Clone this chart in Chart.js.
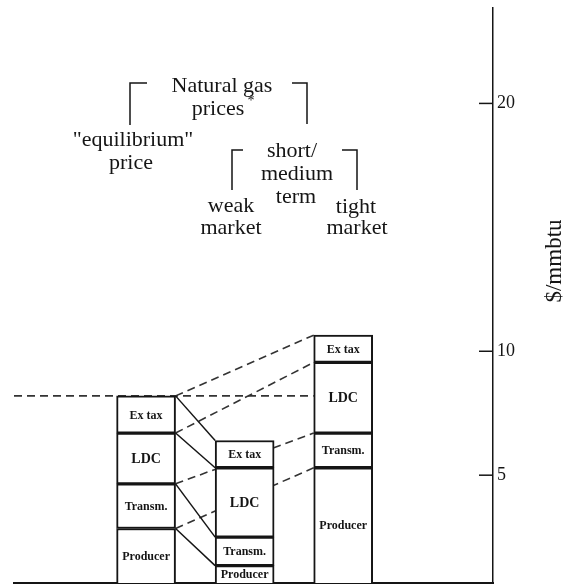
<!DOCTYPE html>
<html>
<head>
<meta charset="utf-8">
<script src="https://cdn.jsdelivr.net/npm/chart.js@4.4.0/dist/chart.umd.min.js"></script>
<style>
  html, body { margin: 0; padding: 0; background: #fff; }
  #wrap { width: 567px; height: 588px; }
</style>
</head>
<body>
<div id="wrap"><canvas id="gasChart" width="567" height="588"></canvas></div>
<script>
// gas price build-up, $/mmbtu
const categories = ['"equilibrium" price', 'weak market', 'tight market'];
const producer = [2.85, 1.35, 5.3];
const transm = [1.8, 1.15, 1.4];
const ldc = [2.05, 2.8, 2.85];
const exTax = [1.5, 1.1, 1.1];
const segmentNames = ['Producer', 'Transm.', 'LDC', 'Ex tax'];
const yTicks = [5, 10, 20];
const axisTitle = '$/mmbtu';

const segments = [producer, transm, ldc, exTax];
const serif = '"Liberation Serif", "DejaVu Serif", serif';
const ink = '#151515';

// running totals: boundaries between the stacked pieces
const totals = segments.map((seg, k) =>
    seg.map((v, i) => segments.slice(0, k + 1).reduce((s, a) => s + a[i], 0)));

const datasets = segments.map((vals, k) => ({
    label: segmentNames[k],
    data: vals.map((v, i) => ({ x: i + 1, y: v })),
    backgroundColor: '#fff',
    borderColor: ink,
    borderWidth: 2,
    borderSkipped: false,
    barThickness: 59
}));

function barEdges(chart, i) {
    const el = chart.getDatasetMeta(0).data[i];
    return { left: el.x - el.width / 2, right: el.x + el.width / 2 };
}

const diagramPlugin = {
    id: 'diagram',
    beforeDatasetsDraw(chart) {
        const { ctx, chartArea } = chart;
        const y = chart.scales.y;
        const b1 = barEdges(chart, 0), b2 = barEdges(chart, 1), b3 = barEdges(chart, 2);
        ctx.save();
        ctx.strokeStyle = '#333';
        ctx.lineWidth = 1.6;
        ctx.setLineDash([8, 5]);
        // "equilibrium" level carried across
        ctx.beginPath();
        ctx.moveTo(chartArea.left, y.getPixelForValue(totals[3][0]));
        ctx.lineTo(b3.left, y.getPixelForValue(totals[3][0]));
        ctx.stroke();
        // equilibrium -> tight market (hidden behind the middle bar)
        for (let k = 0; k < 4; k++) {
            ctx.beginPath();
            ctx.moveTo(b1.right, y.getPixelForValue(totals[k][0]));
            ctx.lineTo(b3.left, y.getPixelForValue(totals[k][2]));
            ctx.stroke();
        }
        // equilibrium -> weak market
        ctx.setLineDash([]);
        ctx.strokeStyle = ink;
        ctx.lineWidth = 1.5;
        for (let k = 0; k < 4; k++) {
            ctx.beginPath();
            ctx.moveTo(b1.right, y.getPixelForValue(totals[k][0]));
            ctx.lineTo(b2.left, y.getPixelForValue(totals[k][1]));
            ctx.stroke();
        }
        ctx.restore();
    },
    afterDatasetsDraw(chart) {
        const { ctx, chartArea } = chart;
        const y = chart.scales.y;
        ctx.save();
        ctx.fillStyle = ink;
        ctx.textAlign = 'center';
        ctx.textBaseline = 'middle';
        segments.forEach((seg, k) => {
            const meta = chart.getDatasetMeta(k);
            seg.forEach((v, i) => {
                const top = y.getPixelForValue(totals[k][i]);
                const bottom = k === 0 ? chartArea.bottom : y.getPixelForValue(totals[k - 1][i]);
                ctx.font = (k === 2 ? 'bold 14px ' : 'bold 12px ') + serif;
                ctx.fillText(segmentNames[k], meta.data[i].x, (top + bottom) / 2 + 1);
            });
        });
        ctx.restore();
    },
    afterDraw(chart) {
        const { ctx } = chart;
        const y = chart.scales.y;
        ctx.save();
        ctx.strokeStyle = ink;
        ctx.fillStyle = ink;
        ctx.lineWidth = 1.5;
        // short inward tick marks
        yTicks.forEach(v => {
            const py = y.getPixelForValue(v);
            ctx.beginPath();
            ctx.moveTo(y.left - 14, py);
            ctx.lineTo(y.left, py);
            ctx.stroke();
        });
        // axis title, reading upwards
        ctx.font = '23px ' + serif;
        ctx.textAlign = 'center';
        ctx.textBaseline = 'middle';
        ctx.translate(555, 261);
        ctx.rotate(-Math.PI / 2);
        ctx.fillText(axisTitle, 0, 0);
        ctx.restore();

        // classification tree of prices
        ctx.save();
        ctx.fillStyle = ink;
        ctx.strokeStyle = ink;
        ctx.lineWidth = 1.5;
        ctx.font = '22px ' + serif;
        ctx.textAlign = 'center';
        ctx.textBaseline = 'middle';
        [['Natural gas', 222, 86], ['prices', 218, 109], ['"equilibrium"', 133, 140],
         ['price', 131, 163], ['short/', 292, 151], ['medium', 297, 174], ['term', 296, 197],
         ['weak', 231, 206], ['market', 231, 228], ['tight', 356, 207], ['market', 357, 228]]
            .forEach(([t, x, yy]) => ctx.fillText(t, x, yy));
        ctx.font = '14px ' + serif;
        ctx.fillText('*', 251, 101);
        [[[147, 83], [130, 83], [130, 125]], [[292, 83], [307, 83], [307, 124]],
         [[243, 150], [232, 150], [232, 190]], [[342, 150], [357, 150], [357, 190]]]
            .forEach(pts => {
                ctx.beginPath();
                ctx.moveTo(pts[0][0], pts[0][1]);
                pts.slice(1).forEach(p => ctx.lineTo(p[0], p[1]));
                ctx.stroke();
            });
        ctx.restore();
    }
};

new Chart(document.getElementById('gasChart').getContext('2d'), {
    type: 'bar',
    data: { datasets: datasets },
    options: {
        responsive: false,
        animation: false,
        layout: { padding: { top: 8, left: 14, right: 0, bottom: 0 } },
        scales: {
            x: {
                type: 'linear',
                min: -0.34,
                max: 4.52,
                offset: false,
                stacked: true,
                ticks: { display: false },
                grid: { display: false, drawTicks: false },
                border: { color: ink, width: 2 },
                afterFit: s => { s.height = 5; s.paddingLeft = 0; s.paddingRight = 0; }
            },
            y: {
                position: 'right',
                stacked: true,
                min: 0.65,
                max: 23.85,
                afterBuildTicks: s => { s.ticks = yTicks.map(v => ({ value: v })); },
                grid: { drawOnChartArea: false, drawTicks: false },
                border: { color: ink, width: 1.5 },
                ticks: { color: ink, padding: 4, font: { family: serif, size: 18 } },
                afterFit: s => { s.width = 74; s.paddingTop = 0; s.paddingBottom = 0; }
            }
        },
        plugins: {
            legend: { display: false },
            tooltip: { enabled: false }
        }
    },
    plugins: [diagramPlugin]
});
</script>
</body>
</html>
